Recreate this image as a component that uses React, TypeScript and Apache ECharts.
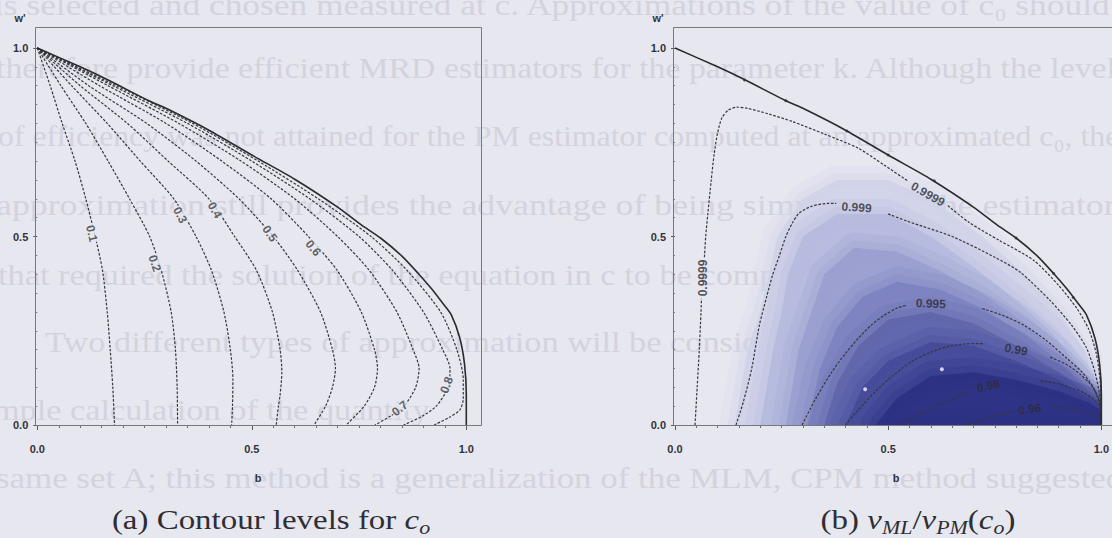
import React, { useEffect, useRef } from "react";
import * as echarts from "echarts";

type Pt = [number, number];

// ---------- data ----------

// outer edge of the admissible (b, w') region, shared by both panels
const boundary: Pt[] = [
  [0, 1], [0.1, 0.95], [0.165, 0.915], [0.26, 0.86], [0.3, 0.84], [0.4, 0.782], [0.5, 0.716],
  [0.6, 0.652], [0.7, 0.578], [0.756, 0.53], [0.8, 0.496], [0.85, 0.448], [0.888, 0.402],
  [0.92, 0.36], [0.945, 0.323], [0.965, 0.292], [0.985, 0.23], [0.996, 0.16], [1, 0.08], [1, 0],
];

// panel (a): contour levels of c_o
const coLevels = ["0.1", "0.2", "0.3", "0.4", "0.5", "0.6", "0.7", "0.8", "0.9"];
const co01: Pt[] = [[0, 1], [0.03, 0.9], [0.058, 0.8], [0.088, 0.7], [0.113, 0.6], [0.135, 0.5], [0.152, 0.41], [0.163, 0.3], [0.17, 0.2], [0.176, 0.1], [0.18, 0]];
const co02: Pt[] = [[0, 1], [0.055, 0.9], [0.113, 0.8], [0.165, 0.7], [0.215, 0.6], [0.262, 0.5], [0.289, 0.41], [0.312, 0.3], [0.322, 0.2], [0.326, 0.1], [0.327, 0]];
const co03: Pt[] = [[0, 1], [0.08, 0.9], [0.163, 0.8], [0.24, 0.7], [0.318, 0.6], [0.37, 0.5], [0.406, 0.41], [0.435, 0.3], [0.45, 0.2], [0.456, 0.12], [0.455, 0.05], [0.453, 0]];
const co04: Pt[] = [[0, 1], [0.1, 0.9], [0.21, 0.8], [0.305, 0.7], [0.4, 0.6], [0.46, 0.5], [0.511, 0.41], [0.548, 0.3], [0.566, 0.2], [0.57, 0.14], [0.566, 0.08], [0.562, 0.05], [0.557, 0]];
const co05: Pt[] = [[0, 1], [0.12, 0.9], [0.255, 0.8], [0.37, 0.7], [0.47, 0.6], [0.55, 0.5], [0.607, 0.41], [0.66, 0.3], [0.688, 0.2], [0.695, 0.15], [0.688, 0.1], [0.672, 0.05], [0.645, 0]];
const co06: Pt[] = [[0, 1], [0.145, 0.9], [0.3, 0.8], [0.43, 0.7], [0.545, 0.6], [0.632, 0.5], [0.699, 0.41], [0.755, 0.3], [0.786, 0.2], [0.793, 0.15], [0.786, 0.1], [0.762, 0.05], [0.72, 0]];
const co07: Pt[] = [[0, 1], [0.165, 0.9], [0.33, 0.8], [0.475, 0.7], [0.6, 0.6], [0.7, 0.5], [0.774, 0.41], [0.838, 0.3], [0.876, 0.2], [0.89, 0.15], [0.882, 0.1], [0.855, 0.05], [0.825, 0.025], [0.787, 0]];
const co08: Pt[] = [[0, 1], [0.176, 0.9], [0.35, 0.8], [0.5, 0.7], [0.635, 0.6], [0.75, 0.5], [0.828, 0.41], [0.9, 0.3], [0.945, 0.2], [0.962, 0.15], [0.958, 0.1], [0.93, 0.05], [0.895, 0.022], [0.854, 0]];
const co09: Pt[] = [[0, 1], [0.184, 0.9], [0.362, 0.8], [0.515, 0.7], [0.655, 0.6], [0.778, 0.5], [0.862, 0.41], [0.94, 0.3], [0.978, 0.2], [0.993, 0.12], [0.993, 0.07], [0.985, 0.04], [0.96, 0.02], [0.925, 0]];
const coCurves: Pt[][] = [co01, co02, co03, co04, co05, co06, co07, co08, co09];
// label anchor (b, w') and text angle for the labelled levels
const coLabelAt: [number, number, number][] = [
  [0.127, 0.508, -77], [0.274, 0.429, -71], [0.333, 0.557, -63], [0.414, 0.57, -60],
  [0.542, 0.508, -55], [0.643, 0.469, -50], [0.845, 0.044, 38], [0.954, 0.106, 70],
];

// panel (b): contour levels of v_ML / v_PM(c_o), each split where its label sits
const ratioLevels = ["0.9999", "0.999", "0.995", "0.99", "0.98", "0.96"];
const r9999: Pt[][] = [
  [[0.047, 0], [0.052, 0.1], [0.057, 0.2], [0.061, 0.3], [0.062, 0.335]],
  [[0.069, 0.445], [0.072, 0.5], [0.077, 0.56], [0.085, 0.65], [0.092, 0.72], [0.1, 0.775], [0.11, 0.815], [0.125, 0.835], [0.145, 0.843], [0.17, 0.84], [0.22, 0.825], [0.275, 0.805], [0.35, 0.772], [0.43, 0.734], [0.49, 0.69], [0.545, 0.648]],
  [[0.64, 0.582], [0.69, 0.537], [0.76, 0.49], [0.841, 0.437], [0.9, 0.37], [0.942, 0.31], [0.97, 0.255], [0.988, 0.19], [0.997, 0.12], [1, 0.05], [1, 0]],
];
const r999: Pt[][] = [
  [[0.143, 0], [0.16, 0.06], [0.18, 0.15], [0.198, 0.265], [0.215, 0.34], [0.229, 0.398], [0.245, 0.45], [0.26, 0.5], [0.275, 0.535], [0.291, 0.562], [0.32, 0.58], [0.36, 0.588], [0.378, 0.588]],
  [[0.5, 0.56], [0.546, 0.54], [0.65, 0.5], [0.75, 0.445], [0.81, 0.405], [0.88, 0.33], [0.93, 0.265], [0.965, 0.205], [0.985, 0.14], [0.996, 0.08], [1, 0.03], [1, 0]],
];
const r995: Pt[][] = [
  [[0.298, 0], [0.33, 0.07], [0.368, 0.141], [0.4, 0.19], [0.43, 0.23], [0.46, 0.265], [0.492, 0.292], [0.52, 0.31], [0.545, 0.318]],
  [[0.721, 0.309], [0.77, 0.29], [0.818, 0.265], [0.87, 0.225], [0.919, 0.177], [0.955, 0.14], [0.981, 0.1], [0.995, 0.06], [1, 0.025], [1, 0]],
];
const r99: Pt[][] = [
  [[0.399, 0], [0.43, 0.04], [0.469, 0.088], [0.51, 0.13], [0.554, 0.168], [0.6, 0.193], [0.64, 0.208], [0.68, 0.215], [0.725, 0.216]],
  [[0.88, 0.18], [0.919, 0.16], [0.95, 0.135], [0.973, 0.11], [0.99, 0.08], [1, 0.045], [1, 0]],
];
const r98: Pt[][] = [
  [[0.523, 0], [0.56, 0.02], [0.601, 0.044], [0.64, 0.064], [0.671, 0.08], [0.69, 0.088]],
  [[0.857, 0.117], [0.9, 0.11], [0.926, 0.1], [0.96, 0.085], [0.988, 0.062], [1, 0.04], [1, 0]],
];
const r96: Pt[][] = [
  [[0.678, 0], [0.71, 0.01], [0.74, 0.022], [0.77, 0.03], [0.792, 0.036]],
  [[0.88, 0.049], [0.91, 0.046], [0.942, 0.04], [0.975, 0.028], [1, 0.015]],
];
const ratioCurves: Pt[][][] = [r9999, r999, r995, r99, r98, r96];
// label texts for panel (b): level index, anchor (b, w'), angle
const ratioLabelAt: [number, number, number, number][] = [
  [0, 0.066, 0.39, 90], [0, 0.593, 0.612, -30], [1, 0.426, 0.577, -4], [2, 0.6, 0.322, -2],
  [3, 0.8, 0.2, -10], [4, 0.735, 0.104, 12], [5, 0.832, 0.042, 8],
];
// ratio field shading: nested regions, palest first
const shadeBands: Pt[][] = [
  [[0.14, 0], [0.17, 0.2], [0.2, 0.3], [0.22, 0.4], [0.24, 0.5], [0.3, 0.6], [0.38, 0.65], [0.5, 0.65], [0.6, 0.6], [0.72, 0.5], [0.82, 0.4], [0.9, 0.3], [0.96, 0.2], [0.99, 0.1], [1, 0]],
  [[0.2, 0], [0.23, 0.2], [0.25, 0.3], [0.265, 0.4], [0.3, 0.5], [0.38, 0.56], [0.5, 0.56], [0.6, 0.5], [0.7, 0.42], [0.8, 0.33], [0.88, 0.25], [0.95, 0.15], [0.99, 0.06], [1, 0]],
  [[0.26, 0], [0.29, 0.2], [0.32, 0.3], [0.35, 0.4], [0.42, 0.47], [0.52, 0.46], [0.62, 0.41], [0.72, 0.35], [0.82, 0.27], [0.9, 0.19], [0.96, 0.11], [1, 0.03], [1, 0]],
  [[0.31, 0], [0.34, 0.15], [0.38, 0.26], [0.44, 0.34], [0.52, 0.38], [0.62, 0.36], [0.72, 0.31], [0.82, 0.24], [0.9, 0.17], [0.96, 0.1], [1, 0.05], [1, 0]],
  [[0.35, 0], [0.38, 0.11], [0.43, 0.21], [0.5, 0.28], [0.6, 0.3], [0.7, 0.27], [0.8, 0.21], [0.9, 0.14], [0.97, 0.08], [1, 0.05], [1, 0]],
  [[0.4, 0], [0.44, 0.1], [0.5, 0.17], [0.6, 0.22], [0.7, 0.21], [0.8, 0.17], [0.9, 0.12], [0.97, 0.07], [1, 0.05], [1, 0]],
  [[0.47, 0], [0.52, 0.07], [0.6, 0.13], [0.7, 0.14], [0.8, 0.12], [0.9, 0.09], [0.97, 0.06], [1, 0.04], [1, 0]],
];
const boundaryMarks: Pt[] = [[0.163, 0.915], [0.26, 0.86], [0.403, 0.78], [0.5, 0.716], [0.608, 0.648], [0.8, 0.496], [0.888, 0.402], [0.934, 0.338]];
const whiteDots: Pt[] = [[0.446, 0.095], [0.626, 0.148]];

const tickValues = [0, 0.5, 1];
const tickLabels = ["0.0", "0.5", "1.0"];

// running text of the page behind the figure
const pageText = [
  "is selected and chosen measured at c. Approximations of the value of c\u2080 should",
  "therefore provide efficient MRD estimators for the parameter k. Although the level",
  "of efficiency was not attained for the PM estimator computed at an approximated c\u2080, the",
  "approximation still provides the advantage of being simpler than the estimator",
  "that required the solution of the equation in c to be computed.",
  "Two different types of approximation will be considered.",
  "simple calculation of the quantity",
  "same set A; this method is a generalization of the MLM, CPM method suggested",
];

// ---------- styling / layout ----------
const BG = "#e7e7f0";
const INK = "#36363c";
const FAINT = "#d3d3de";
const PAGE_FONT = 29;
const CAPTION_FONT = 27;
const CAPTION_STRETCH = 1.22;
const CAPTION_Y = 520;
const shadeColors = ["#d2d4e9", "#b8bcdf", "#9ca1d1", "#7f85c1", "#6268ad", "#474d9a", "#2e3386"];
// [left x, centre y, right x (justified rows) or 0 for natural width]
const pageRows: [number, number, number][] = [
  [-6, 5, 1112], [-4, 68, 1118], [-2, 136, 1120], [-4, 205, 1116],
  [-2, 275, 0], [45, 342, 0], [-30, 410, 0], [-4, 478, 1126],
];

const GRID_A = { left: 37.3, top: 48, width: 429, height: 377 };
const GRID_B = { left: 675, top: 48, width: 430, height: 377 };

function tickFormatter(v: number) {
  const i = tickValues.findIndex((t) => Math.abs(t - v) < 1e-9);
  return i >= 0 ? tickLabels[i] : "";
}

function axisLabelStyle(margin: number) {
  return {
    margin,
    fontFamily: "Liberation Sans",
    fontWeight: "bold" as const,
    fontSize: 11,
    color: "#333338",
    formatter: tickFormatter,
  };
}

function xAxis(gridIndex: number) {
  return {
    type: "value" as const,
    gridIndex,
    min: 0,
    max: 1,
    interval: 0.5,
    axisLine: { show: false },
    axisTick: { show: true, length: 5, lineStyle: { color: "#55555c" } },
    minorTick: { show: true, splitNumber: 10, length: 3, lineStyle: { color: "#6e6e75" } },
    splitLine: { show: false },
    minorSplitLine: { show: false },
    axisLabel: axisLabelStyle(18),
  };
}

function yAxis(gridIndex: number) {
  return {
    type: "value" as const,
    gridIndex,
    min: 0,
    max: 1,
    interval: 0.5,
    offset: 2,
    axisLine: { show: false },
    axisTick: { show: true, length: 4, lineStyle: { color: "#55555c" } },
    minorTick: { show: true, splitNumber: 10, length: 2, lineStyle: { color: "#7a7a80" } },
    splitLine: { show: false },
    minorSplitLine: { show: false },
    axisLabel: axisLabelStyle(7),
  };
}

function curve(data: Pt[], axis: number, solid = false) {
  return {
    type: "line" as const,
    xAxisIndex: axis,
    yAxisIndex: axis,
    data,
    symbol: "none",
    showSymbol: false,
    smooth: 0.25,
    clip: false,
    silent: true,
    z: solid ? 4 : 3,
    lineStyle: solid
      ? { color: "#2a2a30", width: 1.6, type: "solid" as const }
      : { color: INK, width: 1.2, type: [2.6, 1.6] },
  };
}

function serifRich(size: number) {
  return {
    n: { fontFamily: "Liberation Serif", fontSize: size, fill: "#2e2e33", lineHeight: size + 6 },
    i: { fontFamily: "Liberation Serif", fontStyle: "italic", fontSize: size, fill: "#2e2e33", lineHeight: size + 6 },
    s: { fontFamily: "Liberation Serif", fontStyle: "italic", fontSize: Math.round(size * 0.68), fill: "#2e2e33", verticalAlign: "bottom", lineHeight: Math.round(size * 0.68) },
  };
}

function measure(text: string, font: string) {
  const ctx = document.createElement("canvas").getContext("2d");
  if (!ctx) return text.length * 12;
  ctx.font = font;
  return ctx.measureText(text).width;
}

function buildOption() {
  const series: any[] = [];

  // shading of the ratio field (panel b); wide translucent strokes soften each band edge
  series.push({
    type: "custom",
    xAxisIndex: 1,
    yAxisIndex: 1,
    clip: true,
    silent: true,
    z: 1,
    data: shadeBands.map((band, i) => [band[0][0], band[0][1], i]),
    renderItem: (params: any, api: any) => {
      const i = params.dataIndex;
      const points = shadeBands[i].map((p) => api.coord(p));
      const c = shadeColors[i];
      return {
        type: "group",
        children: [
          {
            type: "polygon",
            shape: { points },
            style: { fill: c, stroke: c, lineWidth: 30, strokeOpacity: 0.22, lineJoin: "round" },
          },
          {
            type: "polygon",
            shape: { points },
            style: { fill: "none", stroke: c, lineWidth: 14, strokeOpacity: 0.3, lineJoin: "round" },
          },
        ],
      };
    },
  });

  const labelFont = {
    fontFamily: "Liberation Sans",
    fontWeight: "bold" as const,
    fontSize: 12,
  };

  // panel (a)
  coCurves.forEach((c) => series.push(curve(c, 0)));
  series.push(curve(boundary, 0, true));
  series.push({
    type: "scatter",
    xAxisIndex: 0,
    yAxisIndex: 0,
    symbolSize: 0,
    silent: true,
    z: 6,
    data: coLabelAt.map(([b, w, rot], i) => ({
      value: [b, w],
      label: { formatter: coLevels[i], rotate: rot },
    })),
    label: {
      show: true,
      position: "inside",
      ...labelFont,
      color: "#3a3a40",
      backgroundColor: BG,
      padding: [0, 1],
    },
  });

  // panel (b)
  ratioCurves.forEach((segs) => segs.forEach((s) => series.push(curve(s, 1))));
  series.push(curve(boundary, 1, true));
  series.push({
    type: "scatter",
    xAxisIndex: 1,
    yAxisIndex: 1,
    symbolSize: 3,
    silent: true,
    z: 5,
    itemStyle: { color: "#2e2e34" },
    data: boundaryMarks,
  });
  series.push({
    type: "scatter",
    xAxisIndex: 1,
    yAxisIndex: 1,
    symbolSize: 4,
    silent: true,
    z: 5,
    itemStyle: { color: "#f4f4fa" },
    data: whiteDots,
  });
  series.push({
    type: "scatter",
    xAxisIndex: 1,
    yAxisIndex: 1,
    symbolSize: 0,
    silent: true,
    z: 6,
    data: ratioLabelAt.map(([lv, b, w, rot]) => ({
      value: [b, w],
      label: { formatter: ratioLevels[lv], rotate: rot },
    })),
    label: {
      show: true,
      position: "inside",
      ...labelFont,
      color: "#2c2c34",
    },
  });

  const graphics: any[] = [];
  const pageFont = `${PAGE_FONT}px "Liberation Serif"`;
  // natural-width rows take the mean stretch of the justified rows
  const stretches = pageRows
    .map(([x0, , x1], i) => (x1 ? (x1 - x0) / measure(pageText[i], pageFont) : 0))
    .filter((s) => s > 0);
  const meanStretch = stretches.reduce((a, b) => a + b, 0) / stretches.length;
  pageText.forEach((t, i) => {
    const [x0, y, x1] = pageRows[i];
    const sx = x1 ? (x1 - x0) / measure(t, pageFont) : meanStretch;
    graphics.push({
      type: "text",
      x: x0,
      y,
      scaleX: sx,
      z: 0,
      silent: true,
      style: {
        text: t,
        fontFamily: "Liberation Serif",
        fontSize: PAGE_FONT,
        fill: FAINT,
        align: "left",
        verticalAlign: "middle",
      },
    });
  });
  // plot frames
  graphics.push({
    type: "rect",
    z: 10,
    silent: true,
    shape: { x: 35.5, y: 27.5, width: 446, height: 398 },
    style: { fill: "none", stroke: "#77777e", lineWidth: 1 },
  });
  graphics.push({
    type: "rect",
    z: 10,
    silent: true,
    shape: { x: 673.5, y: 27.5, width: 460, height: 398 },
    style: { fill: "none", stroke: "#77777e", lineWidth: 1 },
  });
  // axis titles
  const axisTitle = (text: string, x: number, y: number) => ({
    type: "text",
    x,
    y,
    z: 10,
    silent: true,
    style: {
      text,
      fontFamily: "Liberation Sans",
      fontWeight: "bold",
      fontSize: 11,
      fill: "#333338",
      align: "center",
      verticalAlign: "middle",
    },
  });
  graphics.push(axisTitle("w'", 20, 18));
  graphics.push(axisTitle("w'", 658, 18));
  graphics.push(axisTitle("b", 258, 478));
  graphics.push(axisTitle("b", 896, 478));
  // captions
  graphics.push({
    type: "text",
    x: 271,
    y: CAPTION_Y,
    z: 10,
    scaleX: CAPTION_STRETCH,
    silent: true,
    style: {
      text: "{n|(a) Contour levels for }{i|c}{s|o}",
      rich: serifRich(CAPTION_FONT),
      align: "center",
      verticalAlign: "middle",
    },
  });
  graphics.push({
    type: "text",
    x: 918,
    y: CAPTION_Y,
    z: 10,
    scaleX: CAPTION_STRETCH,
    silent: true,
    style: {
      text: "{n|(b) }{i|v}{s|ML}{n|/}{i|v}{s|PM}{n|(}{i|c}{s|o}{n|)}",
      rich: serifRich(CAPTION_FONT),
      align: "center",
      verticalAlign: "middle",
    },
  });

  return {
    animation: false,
    backgroundColor: BG,
    grid: [
      { ...GRID_A, containLabel: false },
      { ...GRID_B, containLabel: false },
    ],
    xAxis: [xAxis(0), xAxis(1)],
    yAxis: [yAxis(0), yAxis(1)],
    series,
    graphic: { elements: graphics },
  };
}

export default function App() {
  const ref = useRef<HTMLDivElement>(null);
  useEffect(() => {
    if (!ref.current) return;
    const chart = echarts.init(ref.current, null, { renderer: "svg" });
    chart.setOption(buildOption() as any);
    return () => chart.dispose();
  }, []);
  return (
    <div
      ref={ref}
      style={{ position: "fixed", left: 0, top: 0, width: 1112, height: 538 }}
    />
  );
}
